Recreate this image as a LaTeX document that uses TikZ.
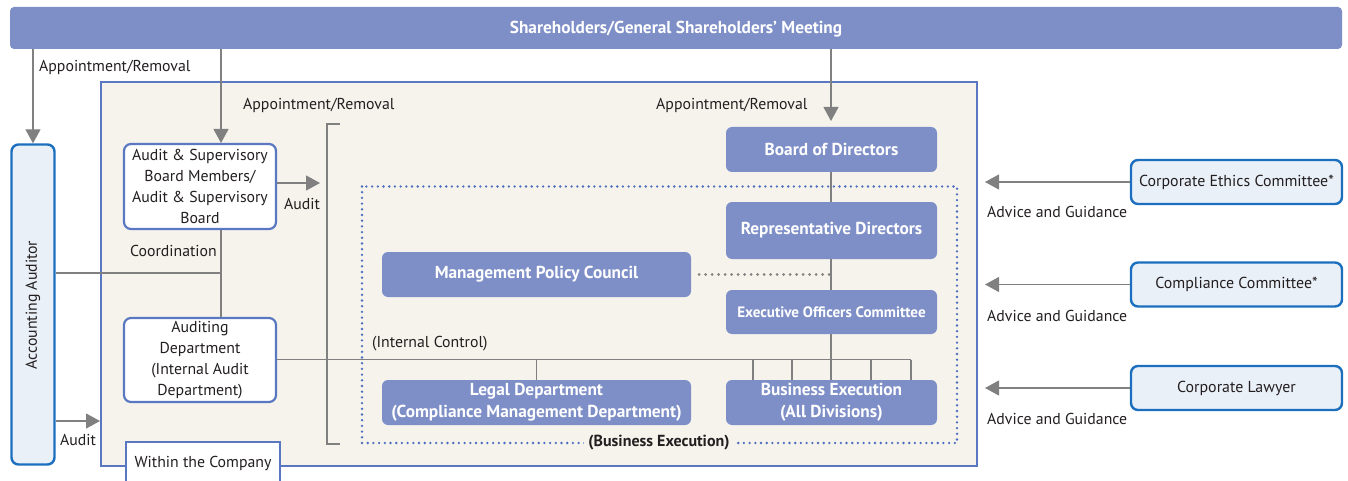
\documentclass[tikz,border=0pt]{standalone}
\usepackage{fontspec}
\setmainfont{PT Sans}
\usetikzlibrary{arrows.meta,calc}
\definecolor{navyc}{HTML}{7E8FC8}
\definecolor{midblue}{HTML}{5A78C2}
\definecolor{strongblue}{HTML}{1B6FBE}
\definecolor{lightb}{HTML}{EAF0F8}
\definecolor{beige}{HTML}{F5F3EC}
\definecolor{linegray}{HTML}{808080}
\definecolor{txtc}{HTML}{231F20}
\definecolor{dotblue}{HTML}{4A6CBF}
\tikzset{
  navybox/.style={fill=navyc, rounded corners=6pt, text=white, font=\fontsize{17.3}{19}\selectfont\bfseries, align=center, inner sep=0pt, draw=none},
  whitebox/.style={draw=midblue, line width=2.2pt, fill=white, rounded corners=7pt, text=txtc, font=\fontsize{15.8}{21}\selectfont, align=center, inner sep=0pt},
  lightbox/.style={draw=strongblue, line width=2.4pt, fill=lightb, rounded corners=7pt, text=txtc, font=\fontsize{15.9}{18}\selectfont, align=center, inner sep=0pt},
  conn/.style={draw=linegray, line width=1.1pt},
  arr/.style={conn, -{Triangle[width=15pt,length=14pt]}, color=linegray},
  lbl/.style={text=txtc, font=\fontsize{15.8}{18}\selectfont, inner sep=0pt},
}
\begin{document}
\begin{tikzpicture}[x=1pt,y=-1pt]
\useasboundingbox (0,0) rectangle (1348,481);
% company area
\draw[fill=beige, draw=midblue, line width=1.5pt] (101,82) rectangle (977,466);
% top bar
\node[navybox, rounded corners=4pt, minimum width=1332pt, minimum height=42pt] (top) at (676,28) {};
\node[text=white, font=\fontsize{17.3}{19}\selectfont\bfseries, inner sep=0pt] (toptxt) at (676,29.5) {Shareholders/General Shareholders’ Meeting};
% left side
\node[lightbox, minimum width=43pt, minimum height=320pt] (acc) at (33,304.5) {};
\node[rotate=90, lbl] (acctxt) at (33,305) {Accounting Auditor};
\node[whitebox, minimum width=152pt, minimum height=85pt] (as) at (200,186.5) {Audit \& Supervisory\\Board Members/\\Audit \& Supervisory\\Board};
\node[whitebox, minimum width=152pt, minimum height=84pt] (ad) at (200,360) {Auditing\\Department\\(Internal Audit\\Department)};
\draw[fill=white, draw=midblue, line width=2pt] (126,442) rectangle (280,495);
\node[lbl] (wtc) at (203,463) {Within the Company};
% dotted business execution frame
\draw[dotblue, line width=2.6pt, dash pattern=on 0pt off 5.7pt, line cap=round] (362,186.5) rectangle (957,443);
% blue boxes
\node[navybox, minimum width=211pt, minimum height=45pt] (bod) at (831.5,149.5) {Board of Directors};
\node[navybox, minimum width=211pt, minimum height=57pt] (rep) at (831.5,230.5) {Representative Directors};
\node[navybox, minimum width=309pt, minimum height=45pt] (mpc) at (536.5,274.5) {Management Policy Council};
\node[navybox, minimum width=211pt, minimum height=44pt, font=\fontsize{15.1}{17}\selectfont\bfseries] (eoc) at (831.5,312) {Executive Officers Committee};
\node[navybox, minimum width=309pt, minimum height=45pt, font=\fontsize{17.3}{22}\selectfont\bfseries] (legal) at (536.5,402.5) {Legal Department\\(Compliance Management Department)};
\node[navybox, minimum width=211pt, minimum height=45pt, font=\fontsize{17.3}{22}\selectfont\bfseries] (bus) at (831.5,402.5) {Business Execution\\(All Divisions)};
% right boxes
\node[lightbox, minimum width=211pt, minimum height=44pt] (eth) at (1236.5,182) {Corporate Ethics Committee*};
\node[lightbox, minimum width=211pt, minimum height=44pt] (com) at (1236.5,284.5) {Compliance Committee*};
\node[lightbox, minimum width=211pt, minimum height=44pt] (law) at (1236.5,388) {Corporate Lawyer};
% coordinates
\coordinate (asin) at (221,143);
\coordinate (audtip) at (320,183);
\coordinate (coordy) at (221,273);
\coordinate (icend) at (911,359.5);
\coordinate (accaud) at (100,421);
\coordinate (bodtip) at (831,121);
\coordinate (dotend) at (831,274.5);
\coordinate (ethtip) at (985,182);
\coordinate (comtip) at (985,284.5);
\coordinate (lawtip) at (985,388);
% connectors from top
\draw[arr] (top.south -| acc.north) -- (acc.north);
\draw[arr] (top.south -| asin) -- (asin);
\draw[arr] (top.south -| bodtip) -- (bodtip);
\node[lbl, anchor=west] (l1) at (39,67) {Appointment/Removal};
\node[lbl, anchor=west] (l2) at (243,105) {Appointment/Removal};
\node[lbl, anchor=west] (l3) at (656,105) {Appointment/Removal};
% audit arrow
\draw[arr] (as.east |- audtip) -- (audtip);
\node[lbl] (l4) at (302,204) {Audit};
% bracket
\draw[conn] (340,124) -- (327,124) -- (327,444) -- (340,444);
% coordination
\draw[conn] (as.south -| asin) -- (ad.north -| asin);
\draw[conn] (acc.east |- coordy) -- (coordy);
\node[lbl, anchor=east] (l5) at (217,251) {Coordination};
% internal control
\draw[conn] (ad.east |- icend) -- (icend);
\node[lbl, anchor=west] (l6) at (372,344) {(Internal Control)};
\draw[conn] (legal.north |- icend) -- (legal.north);
\foreach \xx in {753,792,871,911} \draw[conn] (\xx,359.5) -- (\xx,380);
% vertical chain
\draw[conn] (bod.south -| bodtip) -- (rep.north -| bodtip);
\draw[conn] (rep.south -| bodtip) -- (eoc.north -| bodtip);
\draw[conn] (eoc.south -| bodtip) -- (bus.north -| bodtip);
\draw[linegray, line width=3pt, dash pattern=on 0pt off 6.5pt, line cap=round] (mpc.east) ++(8,0) -- (dotend);
% business execution label
\node[lbl, fill=beige, inner xsep=4pt, inner ysep=2pt, font=\fontsize{16}{18}\selectfont\bfseries] (l7) at (659,443) {(Business Execution)};
% accounting auditor audit
\draw[arr] (acc.east |- accaud) -- (accaud);
\node[lbl] (l8) at (78,440) {Audit};
% right arrows
\draw[arr] (eth.west) -- (ethtip);
\draw[arr] (com.west) -- (comtip);
\draw[arr] (law.west) -- (lawtip);
\node[lbl, anchor=west] (a1) at (987,212) {Advice and Guidance};
\node[lbl, anchor=west] (a2) at (987,316) {Advice and Guidance};
\node[lbl, anchor=west] (a3) at (987,419) {Advice and Guidance};
\end{tikzpicture}
\end{document}
